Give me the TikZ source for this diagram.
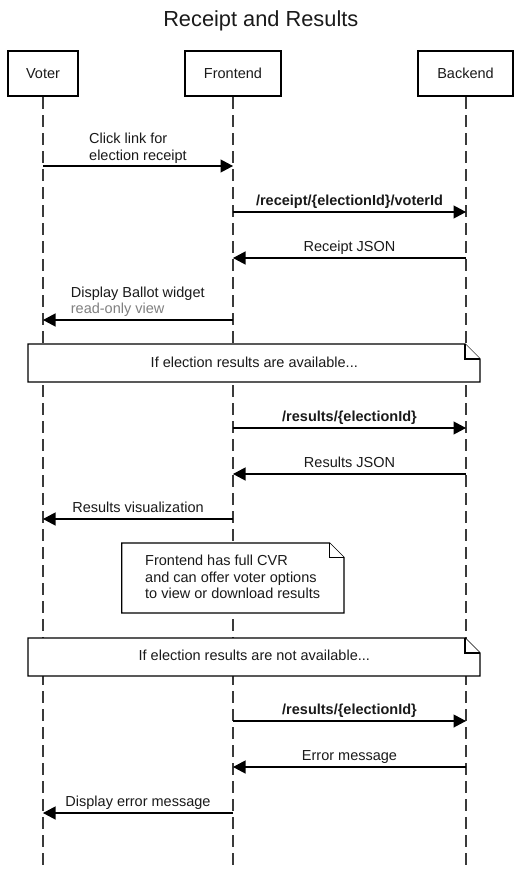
\documentclass[tikz,border=0pt]{standalone}
\usepackage{fontspec}
\setmainfont{Liberation Sans}
\usetikzlibrary{arrows.meta,calc}
\definecolor{txt}{HTML}{1A1A1A}
\definecolor{lifec}{HTML}{3A3A3A}
\definecolor{subtxt}{HTML}{808080}
\tikzset{
  actorbox/.style={draw=black,line width=2pt,fill=white,minimum height=45pt,inner sep=0pt,text=txt,font=\fontsize{14.5}{16.5}\selectfont},
  lifeline/.style={draw=lifec,line width=1.5pt,dash pattern=on 12pt off 6pt},
  msg/.style={draw=black,line width=1.2pt,-{Triangle[length=12.5pt,width=13pt]}},
  msglabel/.style={text=txt,font=\fontsize{14.5}{16.5}\selectfont,inner sep=0pt,align=left},
  notebox/.style={draw=black,line width=1.3pt,fill=white},
  notetext/.style={text=txt,font=\fontsize{14.5}{16.6}\selectfont,inner sep=0pt,align=left},
}
\begin{document}
\begin{tikzpicture}[x=1pt,y=-1pt]
\useasboundingbox[fill=white] (0,0) rectangle (520,870);
% title
\node[anchor=base,text=txt,font=\fontsize{21.8}{24}\selectfont,inner sep=0pt] (title) at (260.8,26) {Receipt and Results};
% lifeline ends
\coordinate (vend) at (43,866);
\coordinate (fend) at (233,866);
\coordinate (bend) at (466,866);
% actors
\node[actorbox,minimum width=70pt] (voter) at (43,73.5) {Voter};
\node[actorbox,minimum width=96pt] (frontend) at (233,73.5) {Frontend};
\node[actorbox,minimum width=95pt] (backend) at (465.5,73.5) {Backend};
\draw[lifeline] (voter.south) -- (vend);
\draw[lifeline] (frontend.south) -- (fend);
\draw[lifeline] (backend.south -| bend) -- (bend);
% message coordinates
\foreach \n/\y in {1/166,2/212,3/258,4/320,5/428,6/474,7/519,8/721,9/767,10/813}{
  \coordinate (v\n) at (43,\y);
  \coordinate (f\n) at (233,\y);
  \coordinate (b\n) at (466,\y);
}
% message 1
\draw[msg] (v1) -- (f1);
\node[msglabel,anchor=base west] (l1) at (89,160) {Click link for\\election receipt};
% message 2
\draw[msg] (f2) -- (b2);
\node[msglabel,anchor=base,font=\fontsize{14.5}{16.5}\selectfont\bfseries] (l2) at ($(f2)!0.5!(b2)+(0,-6.5)$) {/receipt/\{electionId\}/voterId};
% message 3
\draw[msg] (b3) -- (f3);
\node[msglabel,anchor=base] (l3) at ($(f3)!0.5!(b3)+(0,-6.5)$) {Receipt JSON};
% message 4
\draw[msg] (f4) -- (v4);
\node[msglabel,anchor=base west] (l4) at (70.7,313.5) {Display Ballot widget\\\textcolor{subtxt}{read-only view}};
% note 1
\draw[notebox] (28,344) -- (465,344) -- (480,359) -- (480,382) -- (28,382) -- cycle;
\draw[notebox] (465,344) -- (465,359) -- (480,359);
\node[notetext,anchor=base] (n1) at (254.3,367) {If election results are available...};
% message 5
\draw[msg] (f5) -- (b5);
\node[msglabel,anchor=base,font=\fontsize{14.5}{16.5}\selectfont\bfseries] (l5) at ($(f5)!0.5!(b5)+(0,-6.5)$) {/results/\{electionId\}};
% message 6
\draw[msg] (b6) -- (f6);
\node[msglabel,anchor=base] (l6) at ($(f6)!0.5!(b6)+(0,-6.5)$) {Results JSON};
% message 7
\draw[msg] (f7) -- (v7);
\node[msglabel,anchor=base] (l7) at ($(v7)!0.5!(f7)+(0,-6.5)$) {Results visualization};
% note 2
\draw[notebox] (121.7,543) -- (329.5,543) -- (344,557.5) -- (344,613) -- (121.7,613) -- cycle;
\draw[notebox] (329.5,543) -- (329.5,557.5) -- (344,557.5);
\node[notetext,anchor=base west] (n2) at (145,598.7) {Frontend has full CVR\\and can offer voter options\\to view or download results};
% note 3
\draw[notebox] (28,638) -- (465,638) -- (480,653) -- (480,676) -- (28,676) -- cycle;
\draw[notebox] (465,638) -- (465,653) -- (480,653);
\node[notetext,anchor=base] (n3) at (254.3,660.5) {If election results are not available...};
% message 8
\draw[msg] (f8) -- (b8);
\node[msglabel,anchor=base,font=\fontsize{14.5}{16.5}\selectfont\bfseries] (l8) at ($(f8)!0.5!(b8)+(0,-6.5)$) {/results/\{electionId\}};
% message 9
\draw[msg] (b9) -- (f9);
\node[msglabel,anchor=base] (l9) at ($(f9)!0.5!(b9)+(0,-6.5)$) {Error message};
% message 10
\draw[msg] (f10) -- (v10);
\node[msglabel,anchor=base] (l10) at ($(v10)!0.5!(f10)+(0,-6.5)$) {Display error message};
\end{tikzpicture}
\end{document}
